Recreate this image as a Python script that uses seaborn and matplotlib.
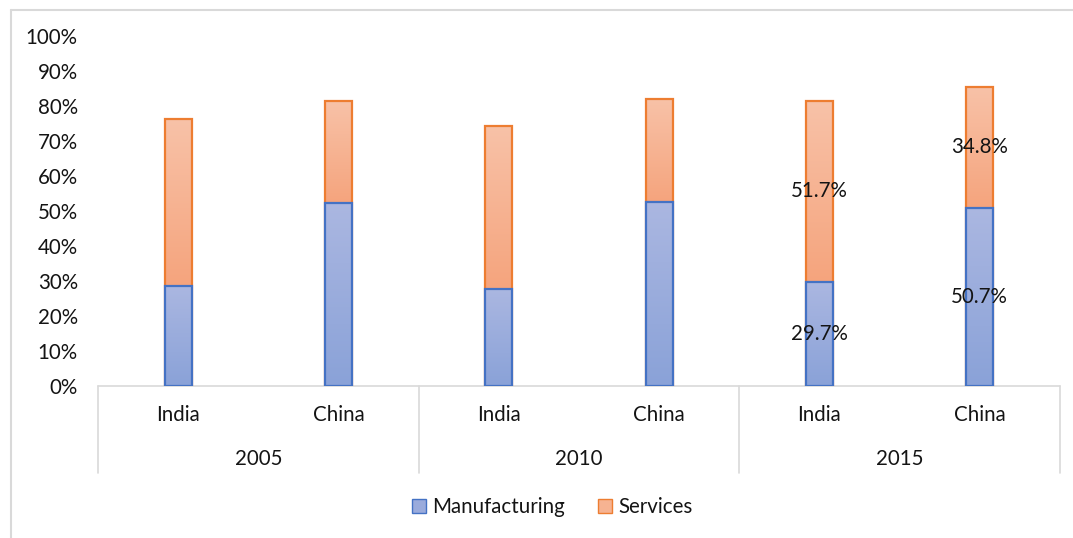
import numpy as np
import pandas as pd
import matplotlib
matplotlib.use("Agg")
import matplotlib.pyplot as plt
from matplotlib.colors import LinearSegmentedColormap
from matplotlib.patches import Patch, Rectangle
from matplotlib.lines import Line2D
import seaborn as sns

# Share of GDP by sector
years = ["2005", "2010", "2015"]
countries = ["India", "China"]
manufacturing = [28.5, 52.2, 27.5, 52.5, 29.7, 50.7]
services = [47.7, 29.3, 46.8, 29.5, 51.7, 34.8]
labelled = [False, False, False, False, True, True]
yticks = [0, 10, 20, 30, 40, 50, 60, 70, 80, 90, 100]

keys = [f"{y} {c}" for y in years for c in countries]
df = pd.DataFrame({
    "key": keys,
    "Manufacturing": manufacturing,
    "Services": services,
})
df["Total"] = df["Manufacturing"] + df["Services"]

sns.set_theme(style="white")
plt.rcParams["font.family"] = ["Lato", "DejaVu Sans"]
TXT = "#141414"
FS = 14.8

W, H = 1073, 538
fig = plt.figure(figsize=(W / 100, H / 100), dpi=100)
ax = fig.add_axes([98 / W, 1 - 385.5 / H, (1060 - 98) / W, (385.5 - 36) / H])

BLUE_EDGE, ORANGE_EDGE = "#4472c4", "#ed7d31"
blue_cmap = LinearSegmentedColormap.from_list("b", ["#8aa2d8", "#abb7e1"])
orange_cmap = LinearSegmentedColormap.from_list("o", ["#f5a47d", "#f8c2a8"])

bw = 0.17
sns.barplot(data=df, x="key", y="Total", order=keys, color=ORANGE_EDGE,
            width=bw, ax=ax, saturation=1, errorbar=None)
n_o = len(ax.patches)
sns.barplot(data=df, x="key", y="Manufacturing", order=keys, color=BLUE_EDGE,
            width=bw, ax=ax, saturation=1, errorbar=None)

grad = np.linspace(0, 1, 256).reshape(-1, 1)
orange_bars = ax.patches[:n_o]
blue_bars = ax.patches[n_o:]
for i, (ob, bb) in enumerate(zip(orange_bars, blue_bars)):
    m = df["Manufacturing"].iloc[i]
    t = df["Total"].iloc[i]
    for bar, lo, hi, cmap, edge, z in [(ob, m, t, orange_cmap, ORANGE_EDGE, 1.0),
                                       (bb, 0, m, blue_cmap, BLUE_EDGE, 1.2)]:
        x0 = bar.get_x()
        x1 = x0 + bar.get_width()
        bar.set_facecolor("none")
        bar.set_edgecolor(edge)
        bar.set_linewidth(1.6)
        bar.set_zorder(z + 0.1)
        im = ax.imshow(grad, cmap=cmap, origin="lower", aspect="auto",
                       extent=(x0, x1, lo, hi), zorder=z)
        clip = Rectangle((x0, lo), x1 - x0, hi - lo, transform=ax.transData)
        im.set_clip_path(clip)

# value labels
for i in range(len(keys)):
    if labelled[i]:
        m = df["Manufacturing"].iloc[i]
        s = df["Services"].iloc[i]
        ax.text(i, m / 2, f"{m:.1f}%", ha="center", va="center",
                fontsize=FS, color=TXT, zorder=5)
        ax.text(i, m + s / 2, f"{s:.1f}%", ha="center", va="center",
                fontsize=FS, color=TXT, zorder=5)

ax.set_xlim(-0.5, len(keys) - 0.5)
ax.set_ylim(0, 100)
ax.set_yticks(yticks)
ax.set_yticklabels([f"{v}%" for v in yticks], fontsize=FS, color=TXT)
ax.tick_params(axis="y", length=0, pad=14.5)
ax.set_xticks([])
ax.set_xlabel("")
ax.set_ylabel("")
for sp in ax.spines.values():
    sp.set_visible(False)

GRID = "#d9d9d9"
trans = ax.get_xaxis_transform()
ax.plot([-0.5, len(keys) - 0.5], [0, 0], color=GRID, lw=1.2,
        transform=trans, clip_on=False, zorder=0.5)
table_bottom = -(473 - 385.5) / (385.5 - 36)
for b in [-0.5, 1.5, 3.5, 5.5]:
    ax.add_line(Line2D([b, b], [0, table_bottom], color=GRID, lw=1.2,
                       transform=trans, clip_on=False))

row1 = -(415 - 385.5) / (385.5 - 36)
row2 = -(459 - 385.5) / (385.5 - 36)
for i, k in enumerate(keys):
    ax.text(i, row1, k.split(" ")[1], transform=trans, ha="center",
            va="center", fontsize=FS, color=TXT)
for g, y in enumerate(years):
    ax.text(2 * g + 0.5, row2, y, transform=trans, ha="center",
            va="center", fontsize=FS, color=TXT)

# legend
handles = [Patch(facecolor="#9aabdc", edgecolor=BLUE_EDGE, label="Manufacturing"),
           Patch(facecolor="#f6b392", edgecolor=ORANGE_EDGE, label="Services")]
fig.legend(handles=handles, loc="center", bbox_to_anchor=(552 / W, 1 - 507 / H),
           ncol=2, frameon=False, fontsize=FS, handlelength=0.7,
           handleheight=0.7, handletextpad=0.3, columnspacing=1.6,
           labelcolor=TXT)

# chart frame
fig.add_artist(Line2D([11 / W, 1.0], [1 - 10 / H, 1 - 10 / H], color=GRID,
                      lw=1.5, transform=fig.transFigure))
fig.add_artist(Line2D([11 / W, 11 / W], [1 - 10 / H, 0.0], color=GRID,
                      lw=1.5, transform=fig.transFigure))

fig.savefig("out.png", dpi=100, facecolor="white")
